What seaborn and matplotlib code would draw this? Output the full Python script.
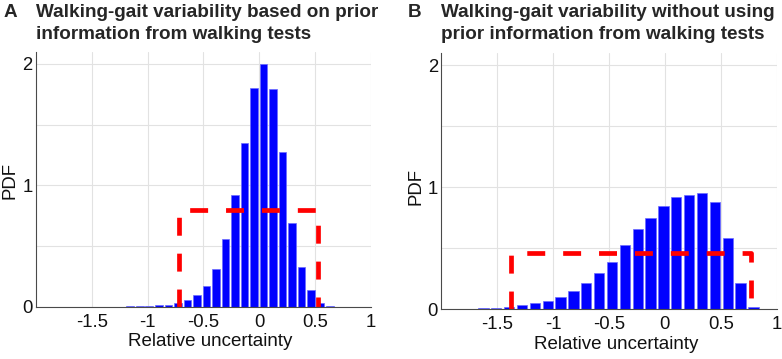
import numpy as np
import pandas as pd
import matplotlib
matplotlib.use("Agg")
import matplotlib.pyplot as plt
import seaborn as sns

# Panel A: histogram with prior information (bin centers / PDF heights)
centers_a = [-1.326, -1.241, -1.155, -1.070, -0.985, -0.899, -0.814, -0.729,
             -0.643, -0.558, -0.473, -0.388, -0.302, -0.217, -0.132, -0.046,
             0.039, 0.124, 0.210, 0.295, 0.380, 0.466, 0.551, 0.636]
pdf_a = [0.001, 0.001, 0.002, 0.003, 0.005, 0.011, 0.018, 0.030,
         0.055, 0.095, 0.170, 0.310, 0.555, 0.920, 1.350, 1.800,
         2.000, 1.790, 1.270, 0.690, 0.330, 0.137, 0.032, 0.006]

# Panel B: histogram without prior information
centers_b = [-1.968, -1.853, -1.738, -1.623, -1.508, -1.393, -1.278, -1.163,
             -1.048, -0.933, -0.818, -0.703, -0.588, -0.473, -0.358, -0.243,
             -0.128, -0.013, 0.102, 0.217, 0.332, 0.447, 0.562, 0.677, 0.792]
pdf_b = [0.003, 0.004, 0.005, 0.008, 0.011, 0.021, 0.033, 0.049,
         0.065, 0.098, 0.147, 0.215, 0.297, 0.390, 0.525, 0.658,
         0.748, 0.847, 0.922, 0.937, 0.951, 0.882, 0.585, 0.212, 0.016]

# Uniform priors drawn as red dashed boxes: (lower, upper, density)
prior_a = (-0.72, 0.53, 0.80)
prior_b = (-1.38, 0.77, 0.465)

titles = {
    "A": ["Walking-gait variability based on prior",
          "information from walking tests"],
    "B": ["Walking-gait variability without using",
          "prior information from walking tests"],
}

xticks = [-1.5, -1, -0.5, 0, 0.5, 1]
xticklabels = ["-1.5", "-1", "-0.5", "0", "0.5", "1"]
yticks = [0, 0.5, 1, 1.5, 2]
yticklabels = ["0", "", "1", "", "2"]

sns.set_style("whitegrid")
plt.rcParams["font.family"] = ["Liberation Sans", "DejaVu Sans"]

fig = plt.figure(figsize=(7.82, 3.59), dpi=100)
W, H = 782, 359


def px_axes(left, top, right, bottom):
    return fig.add_axes([left / W, 1 - bottom / H, (right - left) / W, (bottom - top) / H])


ax_a = px_axes(36, 51.7, 370.7, 306.7)
ax_b = px_axes(441.3, 53.3, 776.7, 309.3)


def draw_panel(ax, centers, pdf, prior, label_x, label_y):
    df = pd.DataFrame({"x": centers, "pdf": pdf})
    sns.barplot(data=df, x="x", y="pdf", native_scale=True, orient="x",
                width=0.8, color="#0000ff", edgecolor="#6b6bff",
                linewidth=0.5, saturation=1, ax=ax)

    lo, hi, dens = prior
    box = pd.DataFrame({"x": [lo, lo, hi, hi], "y": [0, dens, dens, 0]})
    sns.lineplot(data=box, x="x", y="y", estimator=None, sort=False,
                 color="#ff0000", linewidth=3.4, linestyle=(0, (3.8, 3.8)),
                 ax=ax)

    ax.set_xlim(-2, 1)
    ax.set_ylim(0, 2.1)
    ax.set_xticks(xticks)
    ax.set_xticklabels(xticklabels)
    ax.set_yticks(yticks)
    ax.set_yticklabels(yticklabels)
    ax.grid(True, color="#e2e2e2", linewidth=0.8)
    ax.set_axisbelow(True)

    for side in ["top", "right"]:
        ax.spines[side].set_visible(False)
    for side in ["left", "bottom"]:
        ax.spines[side].set_color("#4a4a4a")
        ax.spines[side].set_linewidth(0.8)

    ax.tick_params(axis="both", direction="in", length=2.5, width=0.6,
                   color="#4a4a4a", labelsize=13.3, labelcolor="#111111")
    ax.tick_params(axis="x", pad=5)
    ax.tick_params(axis="y", pad=2.5)

    ax.set_xlabel("Relative uncertainty", fontsize=13.5, color="#111111")
    ax.set_ylabel("PDF", fontsize=13.4, color="#111111")
    ax.xaxis.set_label_coords(0.52, -0.103)
    ax.yaxis.set_label_coords(label_x, label_y)


draw_panel(ax_a, centers_a, pdf_a, prior_a, -0.051, 0.497)
draw_panel(ax_b, centers_b, pdf_b, prior_b, -0.049, 0.479)

# Panel letters and two-line bold titles
for letter, letter_x, title_x in [("A", 3.3, 36.5), ("B", 407.7, 441.3)]:
    fig.text(letter_x / W, 1 - 16.7 / H, letter, fontsize=13.6,
             fontweight="bold", va="baseline", ha="left")
    for line, base in zip(titles[letter], [16.7, 39.0]):
        fig.text(title_x / W, 1 - base / H, line, fontsize=13.6,
                 fontweight="bold", va="baseline", ha="left")

fig.savefig("out.png", dpi=100)
